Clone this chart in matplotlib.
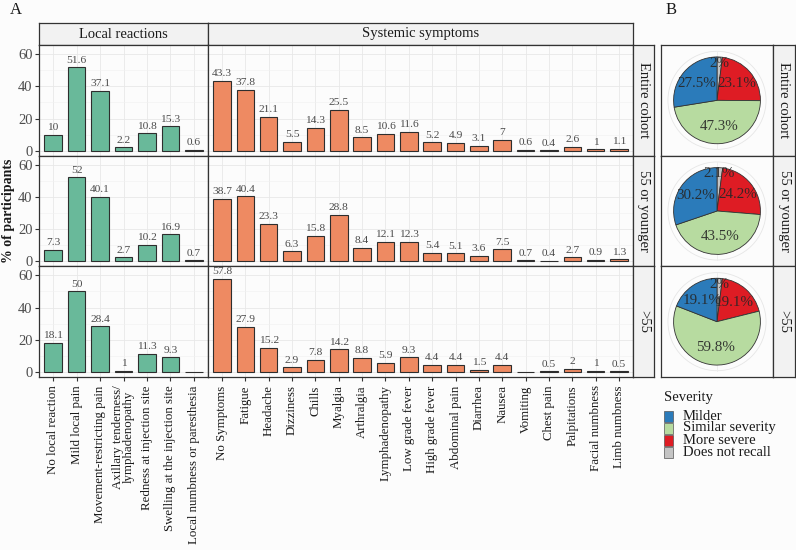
import numpy as np
import matplotlib
matplotlib.use("Agg")
import matplotlib.pyplot as plt
from matplotlib.patches import Rectangle, Circle

plt.rcParams['font.family'] = ['Liberation Serif', 'DejaVu Serif']

# ---------------- data ----------------
row_names = ["Entire cohort", "55 or younger", ">55"]

local_cats = ["No local reaction", "Mild local pain", "Movement-restricting pain",
              "Axillary tenderness/\nlymphadenopathy", "Redness at injection site",
              "Swelling at the injection site", "Local numbness or paresthesia"]
local_entire = [10, 51.6, 37.1, 2.2, 10.8, 15.3, 0.6]
local_young = [7.3, 52, 40.1, 2.7, 10.2, 16.9, 0.7]
local_old = [18.1, 50, 28.4, 1, 11.3, 9.3, 0]

sys_cats = ["No Symptoms", "Fatigue", "Headache", "Dizziness", "Chills", "Myalgia",
            "Arthralgia", "Lymphadenopathy", "Low grade fever", "High grade fever",
            "Abdominal pain", "Diarrhea", "Nausea", "Vomiting", "Chest pain",
            "Palpitations", "Facial numbness", "Limb numbness"]
sys_entire = [43.3, 37.8, 21.1, 5.5, 14.3, 25.5, 8.5, 10.6, 11.6, 5.2, 4.9, 3.1, 7, 0.6, 0.4, 2.6, 1, 1.1]
sys_young = [38.7, 40.4, 23.3, 6.3, 15.8, 28.8, 8.4, 12.1, 12.3, 5.4, 5.1, 3.6, 7.5, 0.7, 0.4, 2.7, 0.9, 1.3]
sys_old = [57.8, 27.9, 15.2, 2.9, 7.8, 14.2, 8.8, 5.9, 9.3, 4.4, 4.4, 1.5, 4.4, 0, 0.5, 2, 1, 0.5]

severity_levels = ["Milder", "Similar severity", "More severe", "Does not recall"]
sev_entire = [27.5, 47.3, 23.1, 2]
sev_young = [30.2, 43.5, 24.2, 2.1]
sev_old = [19.1, 59.8, 19.1, 2]

local_rows = [local_entire, local_young, local_old]
sys_rows = [sys_entire, sys_young, sys_old]
sev_rows = [sev_entire, sev_young, sev_old]

# ---------------- style ----------------
W, H = 796, 550
fig = plt.figure(figsize=(W / 100, H / 100), dpi=100)
BG = '#fcfcfc'
fig.patch.set_facecolor(BG)

GREEN = '#69b99a'
ORANGE = '#ee8a62'
EDGE = '#2e2e2e'
SPINE = '#333333'
STRIP_BG = '#f2f2f2'
sev_colors = {"Milder": '#2b7bba', "Similar severity": '#b7dba0',
              "More severe": '#de1c24', "Does not recall": '#c4c4c4'}


def box(x0, y0, x1, y1):
    return [x0 / W, 1 - y1 / H, (x1 - x0) / W, (y1 - y0) / H]


def style_spines(ax):
    for s in ax.spines.values():
        s.set_color(SPINE)
        s.set_linewidth(0.9)


def strip(rect, text, rotation=0):
    ax = fig.add_axes(rect)
    ax.set_facecolor(STRIP_BG)
    ax.set_xticks([])
    ax.set_yticks([])
    style_spines(ax)
    ax.text(0.5, 0.5, text, transform=ax.transAxes, ha='center', va='center',
            fontsize=10.5, rotation=rotation, color='#1a1a1a')
    return ax


top0, bottom_end = 45, 377
rh = (bottom_end - top0) / 3
tops = [top0 + i * rh for i in range(3)]

# top strips
strip(box(39, 23, 208, 45), "Local reactions")
strip(box(208, 23, 633, 45), "Systemic symptoms")


def bar_panel(rect, cats, vals, color, first, last):
    ax = fig.add_axes(rect)
    ax.set_facecolor(BG)
    x = np.arange(len(cats))
    ax.set_xlim(-0.6, len(cats) - 0.4)
    ax.set_ylim(-3, 65.5)
    ax.set_yticks([0, 20, 40, 60])
    ax.set_yticks([10, 30, 50], minor=True)
    ax.set_xticks(x)
    ax.grid(True, which='major', color='#e8e8e8', lw=0.6, zorder=0)
    ax.grid(True, which='minor', axis='y', color='#f1f1f1', lw=0.4, zorder=0)
    ax.set_axisbelow(True)
    ax.bar(x, vals, width=0.75, color=color, edgecolor=EDGE, linewidth=0.8, zorder=2)
    for xi, v in zip(x, vals):
        if v > 0:
            ax.text(xi, v + 1.6, f"{v:g}", ha='center', va='bottom', fontsize=8.2,
                    color='#4a4a4a', zorder=3)
    style_spines(ax)
    ax.tick_params(which='minor', length=0)
    if first:
        ax.tick_params(axis='y', length=3, color=SPINE, labelsize=10.5, labelcolor='#4d4d4d', pad=1.5)
    else:
        ax.tick_params(axis='y', length=0, labelleft=False)
    if last:
        ax.set_xticklabels(cats, rotation=90, fontsize=9.3, color='#1a1a1a', linespacing=0.9)
        ax.tick_params(axis='x', length=3, color=SPINE, pad=3)
    else:
        ax.tick_params(axis='x', length=0, labelbottom=False)
    return ax


for r in range(3):
    t = tops[r]
    b = t + rh
    last = (r == 2)
    bar_panel(box(39, t, 208, b), local_cats, local_rows[r], GREEN, True, last)
    bar_panel(box(208, t, 633, b), sys_cats, sys_rows[r], ORANGE, False, last)
    strip(box(633, t, 654, b), row_names[r], rotation=-90)

    # pie panel
    ax = fig.add_axes(box(661, t, 773, b))
    ax.set_facecolor(BG)
    style_spines(ax)
    ax.add_patch(Circle((0, 0), 1.13, fill=False, ec='#e6e6e6', lw=0.6, zorder=0))
    ax.plot([0, 0], [-1.13, 1.13], color='#ececec', lw=0.6, zorder=0)
    vals = sev_rows[r]
    order = [3, 2, 1, 0]
    pvals = [vals[i] for i in order]
    pcols = [sev_colors[severity_levels[i]] for i in order]
    wedges, _ = ax.pie(pvals, colors=pcols, startangle=90, counterclock=False, radius=1,
                       wedgeprops=dict(edgecolor='#333333', linewidth=0.6),
                       frame=True)
    ax.set_aspect('auto')
    ax.set_xlim(-1.29, 1.29)
    ax.set_ylim(-1.275, 1.275)
    ax.set_xticks([])
    ax.set_yticks([])
    for w, v in zip(wedges, pvals):
        mid = np.deg2rad((w.theta1 + w.theta2) / 2)
        rad = 0.86 if v < 5 else 0.6
        ax.text(rad * np.cos(mid), rad * np.sin(mid), f"{v:g}%", ha='center', va='center',
                fontsize=10.8, color='#262626', alpha=0.9)
    strip(box(773, t, 795, b), row_names[r], rotation=-90)

# labels
fig.text(9 / W, 1 - 211 / H, "% of participants", rotation=90, fontsize=10,
         fontweight='bold', ha='center', va='center', color='#1a1a1a')
fig.text(10 / W, 1 - 10 / H, "A", fontsize=12, ha='left', va='center', color='#1a1a1a')
fig.text(666 / W, 1 - 10 / H, "B", fontsize=12, ha='left', va='center', color='#1a1a1a')

# legend
fig.text(664 / W, 1 - 397 / H, "Severity", fontsize=10.5, ha='left', va='center', color='#1a1a1a')
for i, lev in enumerate(severity_levels):
    yc = 416 + 12 * i
    fig.patches.append(Rectangle((664 / W, 1 - (yc + 5.5) / H), 9 / W, 11 / H,
                                 transform=fig.transFigure, facecolor=sev_colors[lev],
                                 edgecolor='#555555', lw=0.5))
    fig.text(683 / W, 1 - yc / H, lev, fontsize=10.5, ha='left', va='center', color='#1a1a1a')

fig.savefig("out.png", dpi=100, facecolor=fig.get_facecolor())
